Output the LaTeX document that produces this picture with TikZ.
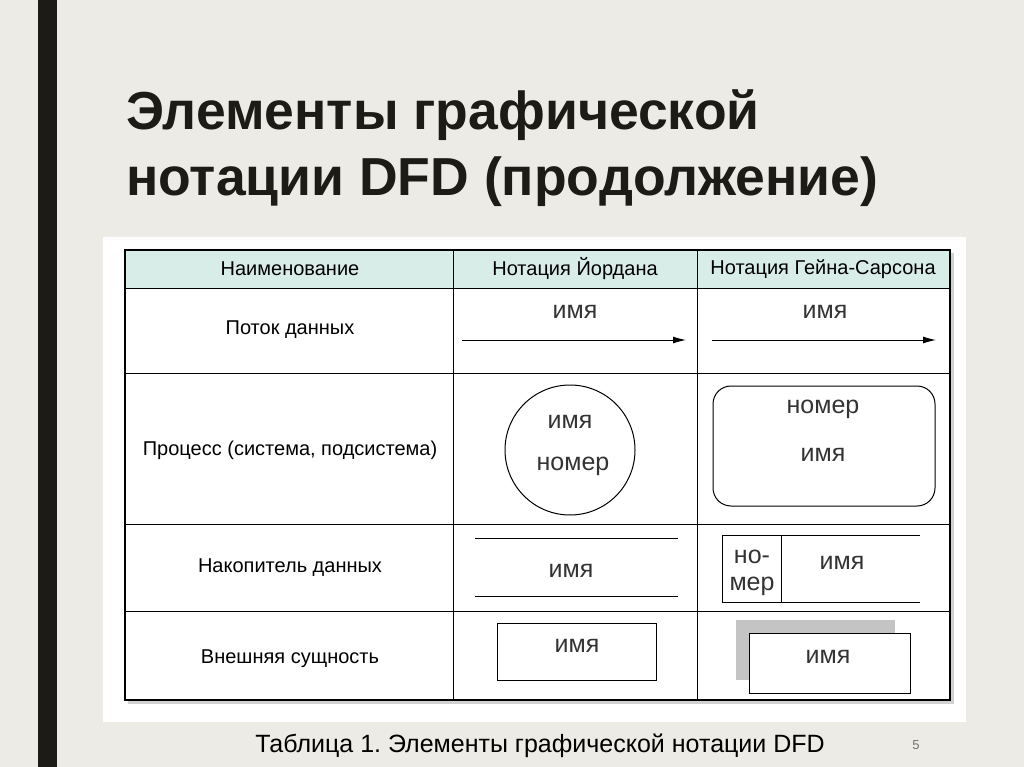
\documentclass[tikz,border=0pt]{standalone}
\usepackage{fontspec}
\setmainfont{Liberation Sans}
\usetikzlibrary{arrows.meta}
\definecolor{bg}{HTML}{EDEBE5}
\definecolor{bar}{HTML}{1C1C14}
\definecolor{head}{HTML}{D8ECE8}
\definecolor{shadegray}{HTML}{C4C4C4}
\begin{document}
\frenchspacing
\begin{tikzpicture}[x=1pt,y=-1pt,
  tt/.style={font=\fontsize{20}{22}\selectfont,inner sep=0pt},
  sh/.style={font=\fontsize{25}{27}\selectfont,inner sep=0pt,text=black!80},
  line/.style={line width=1pt},
  frame/.style={line width=1.8pt}]
\useasboundingbox (0,0) rectangle (1024,767);
\fill[bg] (0,0) rectangle (1024,767);
\fill[bar] (38,0) rectangle (57,767);
\node[anchor=west,align=left,font=\fontsize{53.5}{66}\bfseries\selectfont,text=bar,inner sep=0pt] (title) at (126,148) {Элементы графической\\нотации DFD (продолжение)};
\fill[white] (103,237) rectangle (966,722);
\fill[black!18] (128,253) rectangle (954,704);
\fill[white] (125,250) rectangle (950,700);
\fill[head] (125,250) rectangle (950,288);
% grid
\draw[line] (125,288) -- (950,288) (125,373) -- (950,373) (125,524) -- (950,524) (125,611) -- (950,611);
\draw[line] (453,250) -- (453,700) (697,250) -- (697,700);
\draw[frame] (125,250) rectangle (950,700);
% headers
\node[tt] (h1) at (290,269) {Наименование};
\node[tt] (h2) at (575,269) {Нотация Йордана};
\node[tt] (h3) at (823,269) {Нотация Гейна-Сарсона};
% row labels
\node[tt] (r1) at (290,330) {Поток данных};
\node[tt] (r2) at (290,450) {Процесс (система, подсистема)};
\node[tt] (r3) at (290,568) {Накопитель данных};
\node[tt] (r4) at (290,659) {Внешняя сущность};
% flows
\node[sh] (f1) at (575,312) {имя};
\coordinate (a1) at (462,340); \coordinate (b1) at (686,340);
\draw[line,-{Latex[length=13pt,width=7pt]}] (a1) -- (b1);
\node[sh] (f2) at (825,312) {имя};
\coordinate (a2) at (712,340); \coordinate (b2) at (936,340);
\draw[line,-{Latex[length=13pt,width=7pt]}] (a2) -- (b2);
% process
\node[circle,draw,line width=1pt,minimum size=130pt,inner sep=0pt] (c) at (570,450) {};
\node[sh] at (570,422) {имя};
\node[sh] at (573,466) {номер};
\draw[line,rounded corners=18pt] (713,386) rectangle (935,506);
\node[sh] at (823,409) {номер};
\node[sh] at (823,455) {имя};
% stores
\draw[line] (475,538) -- (678,538) (475,596) -- (678,596);
\node[sh] at (571,571) {имя};
\draw[line] (920,535) -- (722,535) -- (722,602) -- (920,602) (781,535) -- (781,602);
\node[sh] at (752,557) {но-};
\node[sh] at (752,586) {мер};
\node[sh] at (842,563) {имя};
% external
\draw[line] (497,623) rectangle (656,680);
\node[sh] at (577,646) {имя};
\fill[shadegray] (736,620) rectangle (895,680);
\draw[line,fill=white] (749,633) rectangle (910,693);
\node[sh] at (828,657) {имя};
% caption
\node[inner sep=0pt,font=\fontsize{25}{27}\selectfont] (cap) at (540,746) {Таблица 1. Элементы графической нотации DFD};
\node[inner sep=0pt,font=\fontsize{13}{14}\selectfont,text=black!55] (pg) at (916,745) {5};
\end{tikzpicture}
\end{document}
